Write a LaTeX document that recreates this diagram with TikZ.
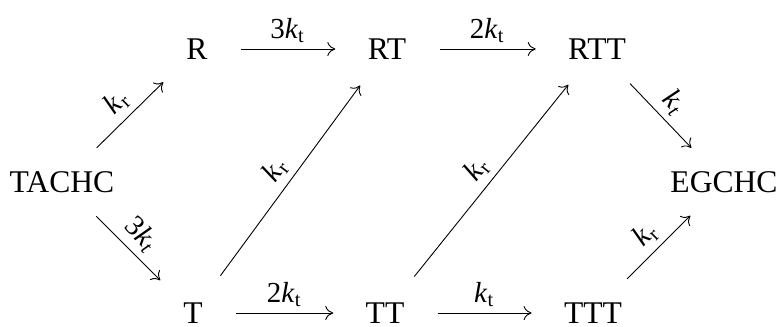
\documentclass[tikz,border=0pt]{standalone}
\usepackage{fontspec}
\setmainfont{Liberation Serif}
\usetikzlibrary{arrows.meta}
\newcommand{\ksub}[1]{\textit{k}\textsubscript{#1}}
\newcommand{\ksubit}[1]{\textit{k\/}\textsubscript{\textit{#1}}}
\begin{document}
\begin{tikzpicture}[x=0.5pt,y=0.5pt,
  spec/.style={inner sep=0pt,font=\fontsize{15.8}{18}\selectfont},
  rate/.style={-{Computer Modern Rightarrow[length=4pt,width=7pt]},line width=0.45pt,
    shorten <=16.5pt,shorten >=16pt},
  lab/.style={midway,sloped,above,font=\fontsize{14.5}{17}\selectfont,inner sep=3pt}]
\useasboundingbox (0,0) rectangle (783,-327);
\node[spec] (TACHC) at (62,-182) {TACHC};
\node[spec] (R) at (197,-49) {R};
\node[spec] (RT) at (387,-49) {RT};
\node[spec] (RTT) at (597,-49) {RTT};
\node[spec] (EGCHC) at (724,-182) {EGCHC};
\node[spec] (T) at (193,-313) {T};
\node[spec] (TT) at (385,-313) {TT};
\node[spec] (TTT) at (593,-313) {TTT};
\draw[rate] (TACHC) -- node[lab] {\ksub{r}} (R);
\draw[rate] (TACHC) -- node[lab] {3\ksubit{t}} (T);
\draw[rate] (R) -- node[lab] {3\ksub{t}} (RT);
\draw[rate] (RT) -- node[lab] {2\ksub{t}} (RTT);
\draw[rate] (RTT) -- node[lab] {\ksubit{t}} (EGCHC);
\draw[rate] (T) -- node[lab] {\ksub{r}} (RT);
\draw[rate] (TT) -- node[lab] {\ksub{r}} (RTT);
\draw[rate] (TTT) -- node[lab] {\ksub{r}} (EGCHC);
\draw[rate] (T) -- node[lab] {2\ksub{t}} (TT);
\draw[rate] (TT) -- node[lab] {\ksub{t}} (TTT);
\end{tikzpicture}
\end{document}
